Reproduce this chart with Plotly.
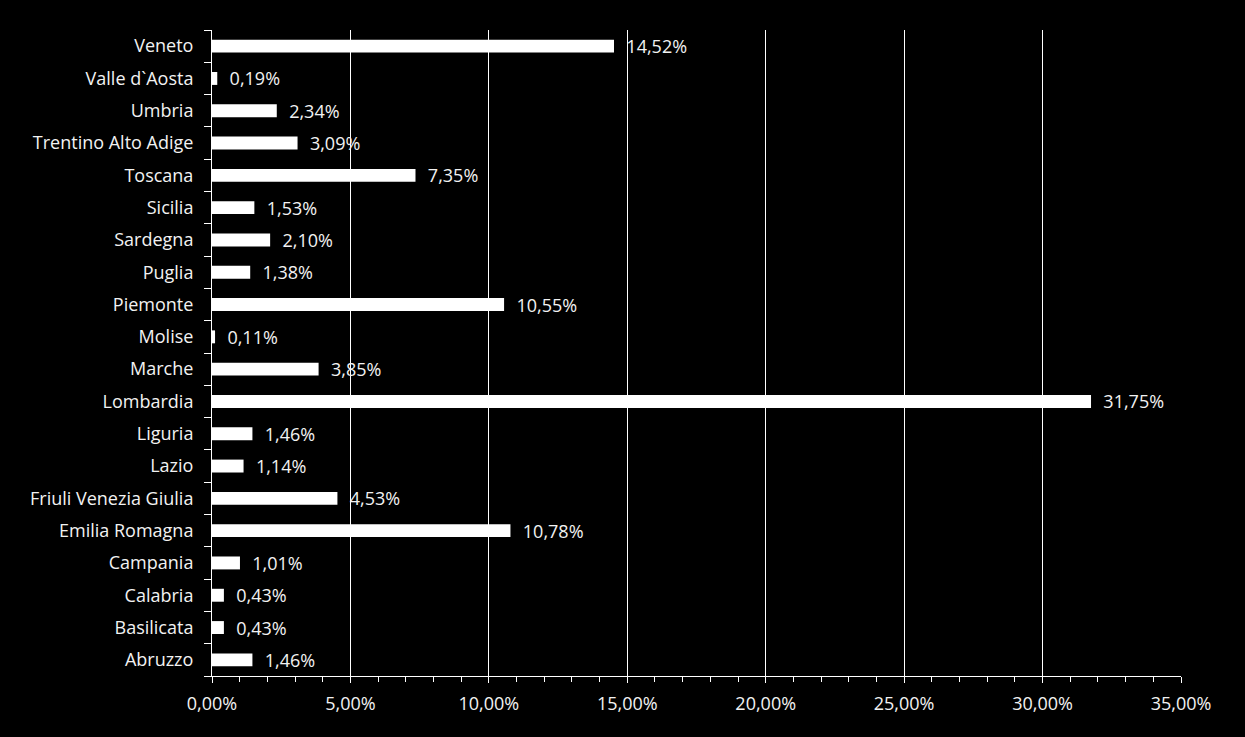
import plotly.graph_objects as go

regioni = ["Abruzzo", "Basilicata", "Calabria", "Campania", "Emilia Romagna",
           "Friuli Venezia Giulia", "Lazio", "Liguria", "Lombardia", "Marche",
           "Molise", "Piemonte", "Puglia", "Sardegna", "Sicilia", "Toscana",
           "Trentino Alto Adige", "Umbria", "Valle d`Aosta", "Veneto"]
quote = [0.0146, 0.0043, 0.0043, 0.0101, 0.1078,
         0.0453, 0.0114, 0.0146, 0.3175, 0.0385,
         0.0011, 0.1055, 0.0138, 0.0210, 0.0153, 0.0735,
         0.0309, 0.0234, 0.0019, 0.1452]

font = "Open Sans, Lato, sans-serif"

fig = go.Figure(go.Bar(
    x=quote, y=regioni, orientation="h",
    marker=dict(color="white", line=dict(width=0)),
    texttemplate="  %{x:.2%}", textposition="outside", constraintext="none",
    textfont=dict(color="#f2f2f2", size=18, family=font),
    cliponaxis=False,
))

fig.update_layout(
    width=1245, height=737,
    paper_bgcolor="black", plot_bgcolor="black",
    separators=",.",
    margin=dict(l=212, r=64, t=30, b=61),
    bargap=0.6,
    showlegend=False,
    font=dict(family=font, color="#f2f2f2", size=18),
)

fig.update_xaxes(
    range=[0, 0.35], dtick=0.05, tickformat=".2%",
    showgrid=True, gridcolor="white", gridwidth=1,
    showline=True, linecolor="white", linewidth=1,
    ticks="outside", ticklen=6, tickcolor="white", ticklabelstandoff=5,
    minor=dict(dtick=0.01, ticks="outside", ticklen=5, tickcolor="white", showgrid=False),
    zeroline=False, fixedrange=True,
)
fig.update_yaxes(
    showline=True, linecolor="white", linewidth=1,
    ticks="outside", tickson="boundaries", ticklen=7, tickcolor="white",
    showgrid=False, ticklabelstandoff=14, automargin=False,
)

fig.write_html("out.html", config={"displayModeBar": False},
               post_script="document.body.style.margin='0';document.body.style.background='black';")
